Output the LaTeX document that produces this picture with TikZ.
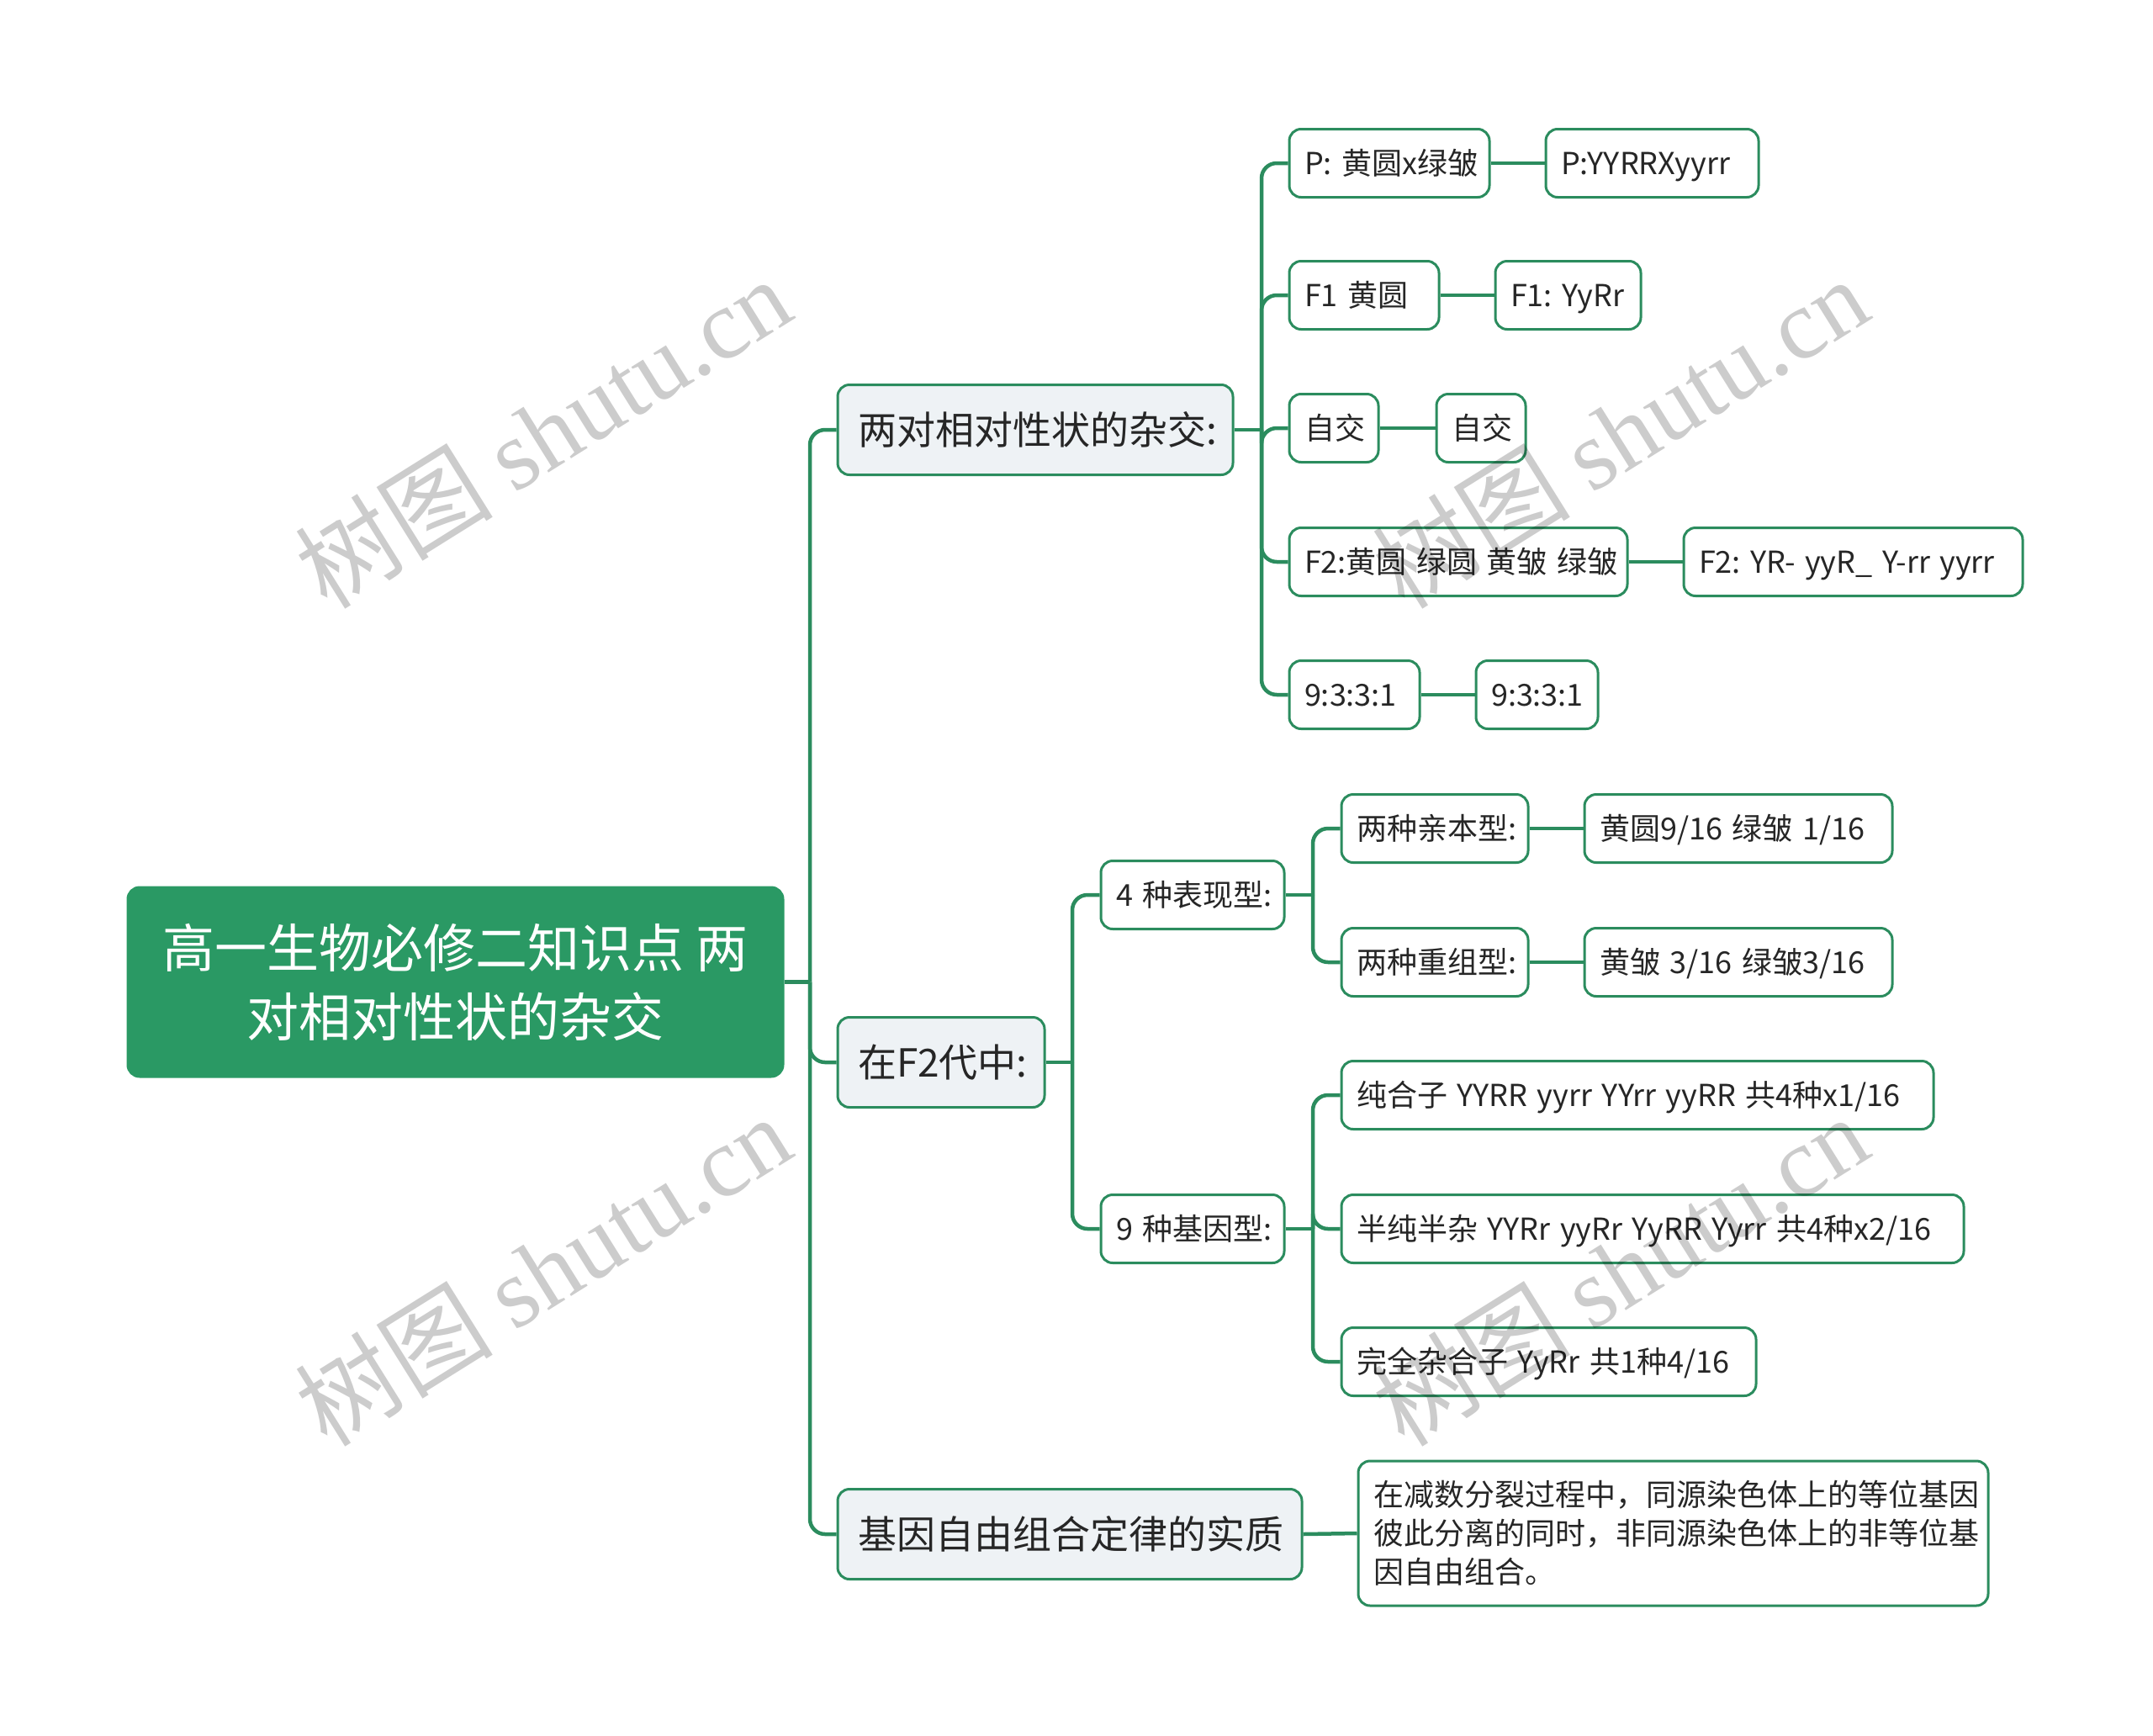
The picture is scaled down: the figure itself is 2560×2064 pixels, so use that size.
\documentclass[tikz,border=0pt]{standalone}
\usepackage{fontspec}
\setmainfont{Noto Sans CJK SC}
\newfontfamily\wmfont{Liberation Serif}
\frenchspacing
\definecolor{mgreen}{HTML}{2A9964}
\definecolor{lgreen}{HTML}{2B8C5E}
\definecolor{lfill}{HTML}{EEF2F5}
\definecolor{txt}{HTML}{262626}
\newcommand\lvtwofont{\fontsize{36}{46}\selectfont\spaceskip 11.5pt\relax}
\newcommand\bx[6]{\node[#1] (#2) at (#3,#4) {\makebox[#5pt][l]{#6}};}
\begin{document}
\begin{tikzpicture}[x=1pt,y=-1pt,
  box/.style={draw=lgreen, line width=3pt, rounded corners=14pt, inner ysep=0pt, text=txt},
  rootbox/.style={box, fill=mgreen, draw=mgreen, text=white, inner sep=0pt, font=\fontsize{62}{82}\selectfont, align=center},
  l1box/.style={box, fill=lfill, minimum height=107pt, inner xsep=24pt, text height=40.5pt, text depth=5.5pt, font=\fontsize{46}{54}\selectfont},
  l2box/.style={box, fill=white, minimum height=81pt, inner xsep=18pt, text height=31.7pt, text depth=4.3pt, font=\lvtwofont},
  l3box/.style={box, fill=white, minimum height=172pt, inner xsep=18pt, align=left, font=\fontsize{36}{46}\selectfont},
  conn/.style={draw=lgreen, line width=4.5pt, rounded corners=18pt},
  wmark/.style={rotate=32, text=black, text opacity=0.2, font=\fontsize{118}{130}\selectfont}]
\useasboundingbox (0,0) rectangle (2560,2064);

% root
\node[rootbox, minimum width=779pt, minimum height=225pt] (root) at (541.5,1167.5) {高一生物必修二知识点 两\\对相对性状的杂交};

% level 1
\bx{l1box}{A}{1231}{511}{422}{两对相对性状的杂交:}
\bx{l1box}{B}{1119}{1263}{198}{在F2代中:}
\bx{l1box}{C}{1272}{1824}{504}{基因自由组合定律的实质}

% A children
\bx{l2box}{a1}{1652}{194}{202}{P: 黄圆x绿皱}
\bx{l2box}{a1r}{1964.5}{194}{217}{P:YYRRXyyrr}
\bx{l2box}{a2}{1622}{351}{142}{F1 黄圆}
\bx{l2box}{a2r}{1864.5}{351}{137}{F1: YyRr}
\bx{l2box}{a3}{1586}{509}{70}{自交}
\bx{l2box}{a3r}{1761}{509}{70}{自交}
\bx{l2box}{a4}{1734}{668}{366}{F2:黄圆 绿圆 黄皱 绿皱}
\bx{l2box}{a4r}{2203.5}{668}{367}{F2: YR- yyR\_ Y-rr yyrr}
\bx{l2box}{a5}{1610.5}{826}{119}{9:3:3:1}
\bx{l2box}{a5r}{1827.5}{826}{109}{9:3:3:1}

% B children
\bx{l2box}{b1}{1418}{1064}{182}{4 种表现型:}
\bx{l2box}{b2}{1418}{1461}{182}{9 种基因型:}
\bx{l2box}{b1a}{1706}{985}{186}{两种亲本型:}
\bx{l2box}{b1ar}{2067}{985}{330}{黄圆9/16 绿皱 1/16}
\bx{l2box}{b1b}{1706}{1144}{186}{两种重组型:}
\bx{l2box}{b1br}{2067}{1144}{330}{黄皱 3/16 绿皱3/16}
\bx{l2box}{b2a}{1947}{1302}{668}{纯合子 YYRR yyrr YYrr yyRR 共4种x1/16}
\bx{l2box}{b2b}{1965}{1461}{704}{半纯半杂 YYRr yyRr YyRR Yyrr 共4种x2/16}
\bx{l2box}{b2c}{1841.5}{1619}{457}{完全杂合子 YyRr 共1种4/16}

% C child
\node[l3box, text width=713pt] (c1) at (1989.5,1823) {在减数分裂过程中，同源染色体上的等位基因\\彼此分离的同时，非同源染色体上的非等位基\\因自由组合。};

% junctions
\coordinate (jR) at (963,1167.5);
\coordinate (jA) at (1500,511);
\coordinate (jB) at (1275,1263);
\coordinate (jb1) at (1561,1064);
\coordinate (jb2) at (1561,1461);

% connectors
\draw[conn] (root.east) -- (jR);
\draw[conn] (jR) |- (A.west);
\draw[conn] (jR) |- (B.west);
\draw[conn] (jR) |- (C.west);

\draw[conn] (A.east) -- (jA);
\foreach \n in {a1,a2,a3,a4,a5} { \draw[conn] (jA) |- (\n.west); }
\draw[conn] (a1.east) -- (a1r.west);
\draw[conn] (a2.east) -- (a2r.west);
\draw[conn] (a3.east) -- (a3r.west);
\draw[conn] (a4.east) -- (a4r.west);
\draw[conn] (a5.east) -- (a5r.west);

\draw[conn] (B.east) -- (jB);
\draw[conn] (jB) |- (b1.west);
\draw[conn] (jB) |- (b2.west);
\draw[conn] (b1.east) -- (jb1);
\draw[conn] (jb1) |- (b1a.west);
\draw[conn] (jb1) |- (b1b.west);
\draw[conn] (b1a.east) -- (b1ar.west);
\draw[conn] (b1b.east) -- (b1br.west);
\draw[conn] (b2.east) -- (jb2);
\foreach \n in {b2a,b2b,b2c} { \draw[conn] (jb2) |- (\n.west); }

\draw[conn] (C.east) -- (c1.west);

% watermarks
\node[wmark] (w1) at (645,514) {树图 {\wmfont shutu.cn}};
\node[wmark] (w2) at (1926,514) {树图 {\wmfont shutu.cn}};
\node[wmark] (w3) at (645,1510) {树图 {\wmfont shutu.cn}};
\node[wmark] (w4) at (1926,1510) {树图 {\wmfont shutu.cn}};
\end{tikzpicture}
\end{document}
